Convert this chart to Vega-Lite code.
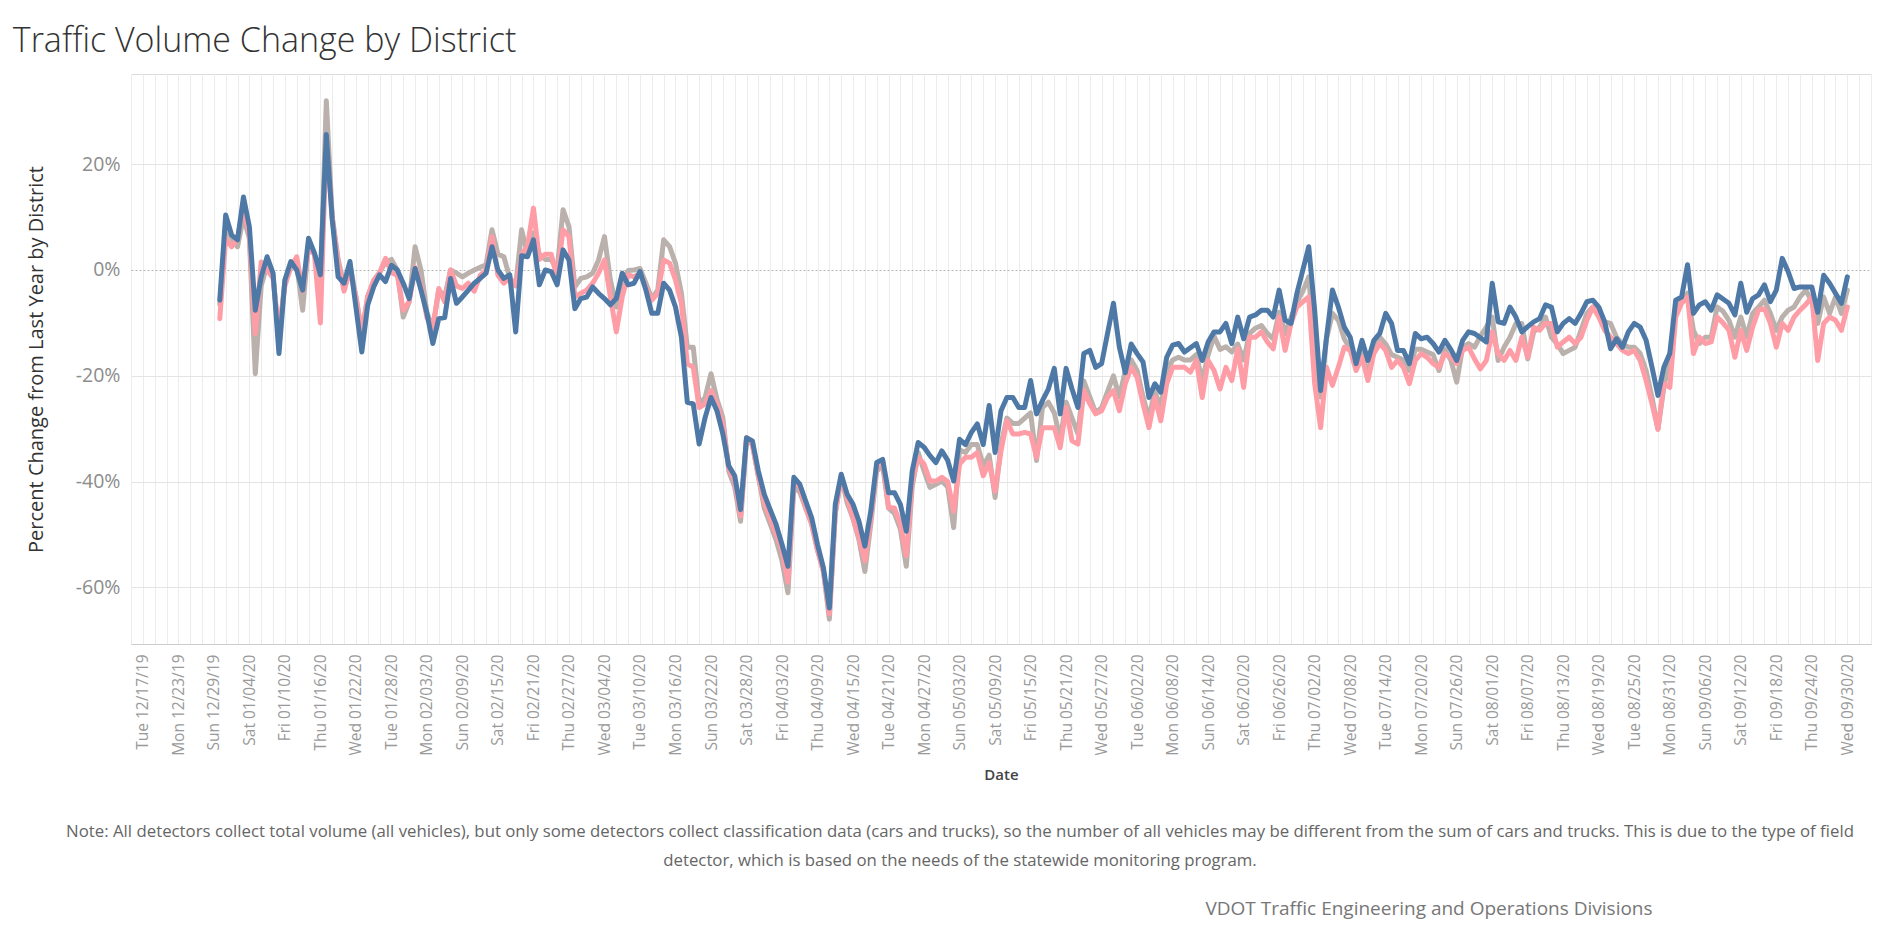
{
  "$schema": "https://vega.github.io/schema/vega-lite/v6.json",
  "background": "white",
  "padding": {"left": 12, "top": 24, "right": 0, "bottom": 12},
  "config": {"font": "Open Sans", "view": {"stroke": null}},
  "title": {"text": "Traffic Volume Change by District", "anchor": "start", "frame": "bounds", "fontSize": 34, "fontWeight": 300, "color": "#333333", "offset": 15, "dx": -13},
  "spacing": 20,
  "vconcat": [
    {
      "width": 1740,
      "height": 570,
      "view": {"stroke": "#dcdcdc"},
      "data": {"values": [
{"date":"2019/12/30","All Vehicles":-6.5,"Cars":-9.2,"Trucks":-5.7},
{"date":"2019/12/31","All Vehicles":8,"Cars":6,"Trucks":10.4},
{"date":"2020/01/01","All Vehicles":6,"Cars":4.4,"Trucks":6.6},
{"date":"2020/01/02","All Vehicles":4.4,"Cars":6,"Trucks":5.7},
{"date":"2020/01/03","All Vehicles":10,"Cars":12,"Trucks":13.8},
{"date":"2020/01/04","All Vehicles":6,"Cars":6.5,"Trucks":8.2},
{"date":"2020/01/05","All Vehicles":-19.6,"Cars":-12,"Trucks":-7.6},
{"date":"2020/01/06","All Vehicles":-3,"Cars":1.5,"Trucks":-1.3},
{"date":"2020/01/07","All Vehicles":1,"Cars":0,"Trucks":2.5},
{"date":"2020/01/08","All Vehicles":-1,"Cars":-1.5,"Trucks":-0.6},
{"date":"2020/01/09","All Vehicles":-13,"Cars":-12,"Trucks":-15.8},
{"date":"2020/01/10","All Vehicles":-2,"Cars":-3,"Trucks":-1.9},
{"date":"2020/01/11","All Vehicles":1,"Cars":0.5,"Trucks":1.6},
{"date":"2020/01/12","All Vehicles":1,"Cars":2.5,"Trucks":0},
{"date":"2020/01/13","All Vehicles":-7.6,"Cars":-4,"Trucks":-3.8},
{"date":"2020/01/14","All Vehicles":5,"Cars":4,"Trucks":6},
{"date":"2020/01/15","All Vehicles":3,"Cars":3,"Trucks":3.2},
{"date":"2020/01/16","All Vehicles":-3,"Cars":-10,"Trucks":-0.9},
{"date":"2020/01/17","All Vehicles":32,"Cars":25,"Trucks":25.6},
{"date":"2020/01/18","All Vehicles":10,"Cars":10,"Trucks":9.5},
{"date":"2020/01/19","All Vehicles":2,"Cars":1.5,"Trucks":-1.3},
{"date":"2020/01/20","All Vehicles":-3,"Cars":-4,"Trucks":-2.5},
{"date":"2020/01/21","All Vehicles":1,"Cars":0,"Trucks":1.6},
{"date":"2020/01/22","All Vehicles":-5,"Cars":-5,"Trucks":-7},
{"date":"2020/01/23","All Vehicles":-12,"Cars":-12,"Trucks":-15.5},
{"date":"2020/01/24","All Vehicles":-5,"Cars":-5,"Trucks":-6.6},
{"date":"2020/01/25","All Vehicles":-2,"Cars":-2,"Trucks":-3.2},
{"date":"2020/01/26","All Vehicles":-0.5,"Cars":-0.5,"Trucks":-0.9},
{"date":"2020/01/27","All Vehicles":1.5,"Cars":2.2,"Trucks":-2.2},
{"date":"2020/01/28","All Vehicles":2,"Cars":-0.5,"Trucks":0.9},
{"date":"2020/01/29","All Vehicles":0,"Cars":-1,"Trucks":0},
{"date":"2020/01/30","All Vehicles":-8.9,"Cars":-7.6,"Trucks":-2.5},
{"date":"2020/01/31","All Vehicles":-6,"Cars":-6,"Trucks":-5.4},
{"date":"2020/02/01","All Vehicles":4.4,"Cars":0.5,"Trucks":0.3},
{"date":"2020/02/02","All Vehicles":0,"Cars":-3,"Trucks":-3.8},
{"date":"2020/02/03","All Vehicles":-8,"Cars":-9,"Trucks":-8.2},
{"date":"2020/02/04","All Vehicles":-11,"Cars":-11,"Trucks":-13.9},
{"date":"2020/02/05","All Vehicles":-3.8,"Cars":-3.5,"Trucks":-9.2},
{"date":"2020/02/06","All Vehicles":-5,"Cars":-6,"Trucks":-9},
{"date":"2020/02/07","All Vehicles":0,"Cars":0,"Trucks":-1.6},
{"date":"2020/02/08","All Vehicles":-0.6,"Cars":-3,"Trucks":-6.3},
{"date":"2020/02/09","All Vehicles":-1.3,"Cars":-3.5,"Trucks":-5.1},
{"date":"2020/02/10","All Vehicles":-0.6,"Cars":-2.5,"Trucks":-3.8},
{"date":"2020/02/11","All Vehicles":0,"Cars":-4,"Trucks":-2.5},
{"date":"2020/02/12","All Vehicles":0.5,"Cars":-1,"Trucks":-1.6},
{"date":"2020/02/13","All Vehicles":1,"Cars":0,"Trucks":-0.6},
{"date":"2020/02/14","All Vehicles":7.6,"Cars":6.3,"Trucks":4.4},
{"date":"2020/02/15","All Vehicles":3,"Cars":-1,"Trucks":0},
{"date":"2020/02/16","All Vehicles":2.5,"Cars":-2.5,"Trucks":-1.6},
{"date":"2020/02/17","All Vehicles":-1.5,"Cars":-1.5,"Trucks":-0.9},
{"date":"2020/02/18","All Vehicles":-3,"Cars":-3,"Trucks":-11.7},
{"date":"2020/02/19","All Vehicles":7.6,"Cars":3,"Trucks":2.7},
{"date":"2020/02/20","All Vehicles":3,"Cars":4.5,"Trucks":2.5},
{"date":"2020/02/21","All Vehicles":7,"Cars":11.7,"Trucks":5.7},
{"date":"2020/02/22","All Vehicles":3,"Cars":2,"Trucks":-2.8},
{"date":"2020/02/23","All Vehicles":2,"Cars":3,"Trucks":0},
{"date":"2020/02/24","All Vehicles":2,"Cars":3,"Trucks":-0.3},
{"date":"2020/02/25","All Vehicles":0,"Cars":-1.5,"Trucks":-2.8},
{"date":"2020/02/26","All Vehicles":11.4,"Cars":7.6,"Trucks":3.8},
{"date":"2020/02/27","All Vehicles":8.2,"Cars":6.3,"Trucks":1.9},
{"date":"2020/02/28","All Vehicles":-3.2,"Cars":-5.1,"Trucks":-7.3},
{"date":"2020/02/29","All Vehicles":-1.6,"Cars":-4.4,"Trucks":-5.4},
{"date":"2020/03/01","All Vehicles":-1.3,"Cars":-3.8,"Trucks":-5.1},
{"date":"2020/03/02","All Vehicles":-0.6,"Cars":-2.5,"Trucks":-3.2},
{"date":"2020/03/03","All Vehicles":1.9,"Cars":-0.6,"Trucks":-4.4},
{"date":"2020/03/04","All Vehicles":6.3,"Cars":1.9,"Trucks":-5.4},
{"date":"2020/03/05","All Vehicles":-1.9,"Cars":-5.1,"Trucks":-6.6},
{"date":"2020/03/06","All Vehicles":-7,"Cars":-11.7,"Trucks":-5.4},
{"date":"2020/03/07","All Vehicles":-2.5,"Cars":-5.1,"Trucks":-0.6},
{"date":"2020/03/08","All Vehicles":-0.1,"Cars":-0.9,"Trucks":-2.8},
{"date":"2020/03/09","All Vehicles":0,"Cars":-1.3,"Trucks":-2.5},
{"date":"2020/03/10","All Vehicles":0.3,"Cars":-0.6,"Trucks":-0.3},
{"date":"2020/03/11","All Vehicles":-2.5,"Cars":-3.2,"Trucks":-3.8},
{"date":"2020/03/12","All Vehicles":-5.4,"Cars":-5.7,"Trucks":-8.2},
{"date":"2020/03/13","All Vehicles":-3.8,"Cars":-4.4,"Trucks":-8.2},
{"date":"2020/03/14","All Vehicles":5.7,"Cars":1.9,"Trucks":-2.5},
{"date":"2020/03/15","All Vehicles":4.4,"Cars":1.3,"Trucks":-3.8},
{"date":"2020/03/16","All Vehicles":1.3,"Cars":-1.9,"Trucks":-7},
{"date":"2020/03/17","All Vehicles":-4.4,"Cars":-6.3,"Trucks":-12.7},
{"date":"2020/03/18","All Vehicles":-14.6,"Cars":-17.7,"Trucks":-25},
{"date":"2020/03/19","All Vehicles":-14.6,"Cars":-18.4,"Trucks":-25.3},
{"date":"2020/03/20","All Vehicles":-25.3,"Cars":-26,"Trucks":-32.9},
{"date":"2020/03/21","All Vehicles":-24.1,"Cars":-25.3,"Trucks":-27.9},
{"date":"2020/03/22","All Vehicles":-19.6,"Cars":-22.8,"Trucks":-24.1},
{"date":"2020/03/23","All Vehicles":-24.4,"Cars":-25.3,"Trucks":-26.6},
{"date":"2020/03/24","All Vehicles":-27.9,"Cars":-29.1,"Trucks":-31},
{"date":"2020/03/25","All Vehicles":-38,"Cars":-37.5,"Trucks":-37},
{"date":"2020/03/26","All Vehicles":-41,"Cars":-40,"Trucks":-38.9},
{"date":"2020/03/27","All Vehicles":-47.5,"Cars":-46.5,"Trucks":-45.3},
{"date":"2020/03/28","All Vehicles":-32,"Cars":-31.7,"Trucks":-31.7},
{"date":"2020/03/29","All Vehicles":-33,"Cars":-33,"Trucks":-32.3},
{"date":"2020/03/30","All Vehicles":-39,"Cars":-39,"Trucks":-38},
{"date":"2020/03/31","All Vehicles":-45,"Cars":-44,"Trucks":-42.4},
{"date":"2020/04/01","All Vehicles":-48,"Cars":-47,"Trucks":-45.3},
{"date":"2020/04/02","All Vehicles":-51,"Cars":-50,"Trucks":-48.1},
{"date":"2020/04/03","All Vehicles":-55,"Cars":-53,"Trucks":-51.9},
{"date":"2020/04/04","All Vehicles":-61,"Cars":-59,"Trucks":-56},
{"date":"2020/04/05","All Vehicles":-41,"Cars":-40,"Trucks":-39.2},
{"date":"2020/04/06","All Vehicles":-42,"Cars":-41,"Trucks":-40.5},
{"date":"2020/04/07","All Vehicles":-45,"Cars":-45,"Trucks":-43.7},
{"date":"2020/04/08","All Vehicles":-48,"Cars":-48,"Trucks":-46.8},
{"date":"2020/04/09","All Vehicles":-53,"Cars":-53,"Trucks":-51.9},
{"date":"2020/04/10","All Vehicles":-57,"Cars":-57,"Trucks":-56.3},
{"date":"2020/04/11","All Vehicles":-66,"Cars":-65,"Trucks":-63.9},
{"date":"2020/04/12","All Vehicles":-46,"Cars":-46,"Trucks":-44.3},
{"date":"2020/04/13","All Vehicles":-39,"Cars":-39,"Trucks":-38.6},
{"date":"2020/04/14","All Vehicles":-44,"Cars":-43,"Trucks":-42.4},
{"date":"2020/04/15","All Vehicles":-47,"Cars":-47,"Trucks":-44.3},
{"date":"2020/04/16","All Vehicles":-51,"Cars":-50.6,"Trucks":-47.5},
{"date":"2020/04/17","All Vehicles":-57,"Cars":-55,"Trucks":-52.2},
{"date":"2020/04/18","All Vehicles":-48,"Cars":-47,"Trucks":-45.6},
{"date":"2020/04/19","All Vehicles":-38,"Cars":-37,"Trucks":-36.4},
{"date":"2020/04/20","All Vehicles":-37,"Cars":-36,"Trucks":-35.8},
{"date":"2020/04/21","All Vehicles":-45,"Cars":-44.9,"Trucks":-42.1},
{"date":"2020/04/22","All Vehicles":-46,"Cars":-45,"Trucks":-42.1},
{"date":"2020/04/23","All Vehicles":-49,"Cars":-48,"Trucks":-44.3},
{"date":"2020/04/24","All Vehicles":-56,"Cars":-54,"Trucks":-49.4},
{"date":"2020/04/25","All Vehicles":-41,"Cars":-40,"Trucks":-38},
{"date":"2020/04/26","All Vehicles":-34.5,"Cars":-35.4,"Trucks":-32.6},
{"date":"2020/04/27","All Vehicles":-38,"Cars":-36.7,"Trucks":-33.5},
{"date":"2020/04/28","All Vehicles":-41.1,"Cars":-39.9,"Trucks":-35.1},
{"date":"2020/04/29","All Vehicles":-40.5,"Cars":-39.9,"Trucks":-36.4},
{"date":"2020/04/30","All Vehicles":-39.9,"Cars":-39.2,"Trucks":-34.2},
{"date":"2020/05/01","All Vehicles":-41,"Cars":-40,"Trucks":-36},
{"date":"2020/05/02","All Vehicles":-48.7,"Cars":-45.6,"Trucks":-39.9},
{"date":"2020/05/03","All Vehicles":-34,"Cars":-36.7,"Trucks":-32},
{"date":"2020/05/04","All Vehicles":-34.5,"Cars":-35.4,"Trucks":-33},
{"date":"2020/05/05","All Vehicles":-33,"Cars":-35.4,"Trucks":-30.7},
{"date":"2020/05/06","All Vehicles":-33,"Cars":-34.5,"Trucks":-29.1},
{"date":"2020/05/07","All Vehicles":-37,"Cars":-38.9,"Trucks":-33},
{"date":"2020/05/08","All Vehicles":-35,"Cars":-36.4,"Trucks":-25.6},
{"date":"2020/05/09","All Vehicles":-43,"Cars":-41.8,"Trucks":-34.5},
{"date":"2020/05/10","All Vehicles":-33,"Cars":-34.2,"Trucks":-26.6},
{"date":"2020/05/11","All Vehicles":-28,"Cars":-28.5,"Trucks":-24.1},
{"date":"2020/05/12","All Vehicles":-29,"Cars":-31,"Trucks":-24.1},
{"date":"2020/05/13","All Vehicles":-29,"Cars":-31,"Trucks":-26},
{"date":"2020/05/14","All Vehicles":-28,"Cars":-30.7,"Trucks":-26},
{"date":"2020/05/15","All Vehicles":-27,"Cars":-31,"Trucks":-20.9},
{"date":"2020/05/16","All Vehicles":-36,"Cars":-35.4,"Trucks":-27.2},
{"date":"2020/05/17","All Vehicles":-26,"Cars":-29.8,"Trucks":-24.7},
{"date":"2020/05/18","All Vehicles":-25,"Cars":-29.8,"Trucks":-22.5},
{"date":"2020/05/19","All Vehicles":-27,"Cars":-29.8,"Trucks":-18.6},
{"date":"2020/05/20","All Vehicles":-32,"Cars":-33.6,"Trucks":-27.2},
{"date":"2020/05/21","All Vehicles":-25,"Cars":-26,"Trucks":-18.6},
{"date":"2020/05/22","All Vehicles":-28,"Cars":-32.3,"Trucks":-22.5},
{"date":"2020/05/23","All Vehicles":-31,"Cars":-32.9,"Trucks":-26},
{"date":"2020/05/24","All Vehicles":-21,"Cars":-22.8,"Trucks":-15.8},
{"date":"2020/05/25","All Vehicles":-24,"Cars":-25.3,"Trucks":-15.2},
{"date":"2020/05/26","All Vehicles":-27,"Cars":-27.2,"Trucks":-18.4},
{"date":"2020/05/27","All Vehicles":-26,"Cars":-26.6,"Trucks":-17.7},
{"date":"2020/05/28","All Vehicles":-23,"Cars":-24.1,"Trucks":-12},
{"date":"2020/05/29","All Vehicles":-20,"Cars":-22.8,"Trucks":-6.3},
{"date":"2020/05/30","All Vehicles":-24,"Cars":-26.6,"Trucks":-14.6},
{"date":"2020/05/31","All Vehicles":-19,"Cars":-21.5,"Trucks":-19.4},
{"date":"2020/06/01","All Vehicles":-17,"Cars":-18.4,"Trucks":-14},
{"date":"2020/06/02","All Vehicles":-19,"Cars":-20.3,"Trucks":-15.8},
{"date":"2020/06/03","All Vehicles":-24,"Cars":-25.3,"Trucks":-17.4},
{"date":"2020/06/04","All Vehicles":-28,"Cars":-29.8,"Trucks":-24.1},
{"date":"2020/06/05","All Vehicles":-23,"Cars":-24.1,"Trucks":-21.5},
{"date":"2020/06/06","All Vehicles":-26,"Cars":-28.5,"Trucks":-23.1},
{"date":"2020/06/07","All Vehicles":-19,"Cars":-21.5,"Trucks":-16.5},
{"date":"2020/06/08","All Vehicles":-17,"Cars":-18.4,"Trucks":-14.2},
{"date":"2020/06/09","All Vehicles":-16.5,"Cars":-18.4,"Trucks":-13.9},
{"date":"2020/06/10","All Vehicles":-17,"Cars":-18.4,"Trucks":-15.5},
{"date":"2020/06/11","All Vehicles":-17,"Cars":-19.3,"Trucks":-14.7},
{"date":"2020/06/12","All Vehicles":-16,"Cars":-17.1,"Trucks":-13.9},
{"date":"2020/06/13","All Vehicles":-21,"Cars":-24.1,"Trucks":-17.1},
{"date":"2020/06/14","All Vehicles":-16,"Cars":-17.1,"Trucks":-13.6},
{"date":"2020/06/15","All Vehicles":-12.5,"Cars":-19,"Trucks":-11.7},
{"date":"2020/06/16","All Vehicles":-15,"Cars":-22.5,"Trucks":-11.7},
{"date":"2020/06/17","All Vehicles":-14.5,"Cars":-18.4,"Trucks":-10.1},
{"date":"2020/06/18","All Vehicles":-15.5,"Cars":-20.9,"Trucks":-13.9},
{"date":"2020/06/19","All Vehicles":-14,"Cars":-14.9,"Trucks":-8.9},
{"date":"2020/06/20","All Vehicles":-17,"Cars":-22.2,"Trucks":-13},
{"date":"2020/06/21","All Vehicles":-12,"Cars":-12.7,"Trucks":-8.9},
{"date":"2020/06/22","All Vehicles":-11,"Cars":-12.7,"Trucks":-8.5},
{"date":"2020/06/23","All Vehicles":-10.5,"Cars":-11.7,"Trucks":-7.6},
{"date":"2020/06/24","All Vehicles":-12,"Cars":-13.6,"Trucks":-7.6},
{"date":"2020/06/25","All Vehicles":-13,"Cars":-14.9,"Trucks":-8.9},
{"date":"2020/06/26","All Vehicles":-8,"Cars":-8.9,"Trucks":-3.8},
{"date":"2020/06/27","All Vehicles":-12,"Cars":-15.2,"Trucks":-9.5},
{"date":"2020/06/28","All Vehicles":-9,"Cars":-10.1,"Trucks":-10.1},
{"date":"2020/06/29","All Vehicles":-6,"Cars":-7,"Trucks":-4.4},
{"date":"2020/06/30","All Vehicles":-4,"Cars":-6,"Trucks":0},
{"date":"2020/07/01","All Vehicles":-1.3,"Cars":-5.1,"Trucks":4.4},
{"date":"2020/07/02","All Vehicles":-15,"Cars":-21.5,"Trucks":-7.6},
{"date":"2020/07/03","All Vehicles":-24,"Cars":-29.8,"Trucks":-22.8},
{"date":"2020/07/04","All Vehicles":-13,"Cars":-18.4,"Trucks":-12.7},
{"date":"2020/07/05","All Vehicles":-8.2,"Cars":-21.8,"Trucks":-3.8},
{"date":"2020/07/06","All Vehicles":-9.5,"Cars":-18.4,"Trucks":-7},
{"date":"2020/07/07","All Vehicles":-13,"Cars":-14.6,"Trucks":-10.8},
{"date":"2020/07/08","All Vehicles":-15,"Cars":-15.2,"Trucks":-12.7},
{"date":"2020/07/09","All Vehicles":-18,"Cars":-19,"Trucks":-17.7},
{"date":"2020/07/10","All Vehicles":-15.5,"Cars":-16.5,"Trucks":-13.3},
{"date":"2020/07/11","All Vehicles":-20,"Cars":-20.9,"Trucks":-17.1},
{"date":"2020/07/12","All Vehicles":-14.5,"Cars":-15.8,"Trucks":-13.3},
{"date":"2020/07/13","All Vehicles":-12.7,"Cars":-13.9,"Trucks":-12},
{"date":"2020/07/14","All Vehicles":-14,"Cars":-15.2,"Trucks":-8.2},
{"date":"2020/07/15","All Vehicles":-16,"Cars":-18.4,"Trucks":-10.1},
{"date":"2020/07/16","All Vehicles":-16.5,"Cars":-17.1,"Trucks":-15.2},
{"date":"2020/07/17","All Vehicles":-17,"Cars":-18.4,"Trucks":-15.2},
{"date":"2020/07/18","All Vehicles":-19,"Cars":-21.5,"Trucks":-17.7},
{"date":"2020/07/19","All Vehicles":-15,"Cars":-17.1,"Trucks":-12},
{"date":"2020/07/20","All Vehicles":-15,"Cars":-15.8,"Trucks":-13},
{"date":"2020/07/21","All Vehicles":-15.5,"Cars":-16.5,"Trucks":-12.7},
{"date":"2020/07/22","All Vehicles":-16,"Cars":-17.7,"Trucks":-13.9},
{"date":"2020/07/23","All Vehicles":-19,"Cars":-18.4,"Trucks":-15.5},
{"date":"2020/07/24","All Vehicles":-15,"Cars":-15.8,"Trucks":-13.3},
{"date":"2020/07/25","All Vehicles":-17,"Cars":-16.5,"Trucks":-15},
{"date":"2020/07/26","All Vehicles":-21.2,"Cars":-17.7,"Trucks":-17.1},
{"date":"2020/07/27","All Vehicles":-14.6,"Cars":-15.2,"Trucks":-13.3},
{"date":"2020/07/28","All Vehicles":-13.9,"Cars":-14.6,"Trucks":-11.7},
{"date":"2020/07/29","All Vehicles":-14.6,"Cars":-16.8,"Trucks":-12},
{"date":"2020/07/30","All Vehicles":-12.5,"Cars":-18.7,"Trucks":-12.8},
{"date":"2020/07/31","All Vehicles":-10.8,"Cars":-17.1,"Trucks":-13.6},
{"date":"2020/08/01","All Vehicles":-8.9,"Cars":-11.7,"Trucks":-2.5},
{"date":"2020/08/02","All Vehicles":-17.1,"Cars":-15.8,"Trucks":-9.8},
{"date":"2020/08/03","All Vehicles":-14.6,"Cars":-17.1,"Trucks":-10.1},
{"date":"2020/08/04","All Vehicles":-12.7,"Cars":-15.2,"Trucks":-7},
{"date":"2020/08/05","All Vehicles":-10.1,"Cars":-17.1,"Trucks":-8.9},
{"date":"2020/08/06","All Vehicles":-10.1,"Cars":-12.7,"Trucks":-11.7},
{"date":"2020/08/07","All Vehicles":-16.8,"Cars":-16.5,"Trucks":-10.7},
{"date":"2020/08/08","All Vehicles":-11.7,"Cars":-10.8,"Trucks":-9.8},
{"date":"2020/08/09","All Vehicles":-10.8,"Cars":-11.4,"Trucks":-9.2},
{"date":"2020/08/10","All Vehicles":-8.9,"Cars":-10.1,"Trucks":-6.6},
{"date":"2020/08/11","All Vehicles":-12.7,"Cars":-10.1,"Trucks":-7},
{"date":"2020/08/12","All Vehicles":-14,"Cars":-14.6,"Trucks":-11.7},
{"date":"2020/08/13","All Vehicles":-15.8,"Cars":-13.6,"Trucks":-10.1},
{"date":"2020/08/14","All Vehicles":-15.2,"Cars":-12.7,"Trucks":-9.2},
{"date":"2020/08/15","All Vehicles":-14.6,"Cars":-13.9,"Trucks":-10.1},
{"date":"2020/08/16","All Vehicles":-11.4,"Cars":-12.7,"Trucks":-8.2},
{"date":"2020/08/17","All Vehicles":-8.2,"Cars":-9.5,"Trucks":-6},
{"date":"2020/08/18","All Vehicles":-7,"Cars":-7,"Trucks":-5.7},
{"date":"2020/08/19","All Vehicles":-7.6,"Cars":-8.9,"Trucks":-7},
{"date":"2020/08/20","All Vehicles":-9.8,"Cars":-11.4,"Trucks":-9.8},
{"date":"2020/08/21","All Vehicles":-10.1,"Cars":-12.7,"Trucks":-14.9},
{"date":"2020/08/22","All Vehicles":-12.7,"Cars":-13.9,"Trucks":-13},
{"date":"2020/08/23","All Vehicles":-14,"Cars":-15.2,"Trucks":-14.6},
{"date":"2020/08/24","All Vehicles":-14.6,"Cars":-15.8,"Trucks":-11.7},
{"date":"2020/08/25","All Vehicles":-14.6,"Cars":-15.2,"Trucks":-10.1},
{"date":"2020/08/26","All Vehicles":-15.8,"Cars":-17.1,"Trucks":-10.8},
{"date":"2020/08/27","All Vehicles":-19,"Cars":-20.9,"Trucks":-13.3},
{"date":"2020/08/28","All Vehicles":-24.1,"Cars":-25.3,"Trucks":-18.4},
{"date":"2020/08/29","All Vehicles":-30.1,"Cars":-30.1,"Trucks":-23.7},
{"date":"2020/08/30","All Vehicles":-22.2,"Cars":-21.5,"Trucks":-18.4},
{"date":"2020/08/31","All Vehicles":-16.5,"Cars":-22.2,"Trucks":-15.8},
{"date":"2020/09/01","All Vehicles":-7.6,"Cars":-8.9,"Trucks":-5.7},
{"date":"2020/09/02","All Vehicles":-5.7,"Cars":-6.3,"Trucks":-5.1},
{"date":"2020/09/03","All Vehicles":-4.4,"Cars":-5.1,"Trucks":1},
{"date":"2020/09/04","All Vehicles":-11.4,"Cars":-15.8,"Trucks":-8.2},
{"date":"2020/09/05","All Vehicles":-13.9,"Cars":-12.7,"Trucks":-6.6},
{"date":"2020/09/06","All Vehicles":-12.7,"Cars":-13.9,"Trucks":-6},
{"date":"2020/09/07","All Vehicles":-12.7,"Cars":-13.6,"Trucks":-7.6},
{"date":"2020/09/08","All Vehicles":-7,"Cars":-8.9,"Trucks":-4.7},
{"date":"2020/09/09","All Vehicles":-7.8,"Cars":-10,"Trucks":-5.5},
{"date":"2020/09/10","All Vehicles":-9.5,"Cars":-11.4,"Trucks":-6.3},
{"date":"2020/09/11","All Vehicles":-12.7,"Cars":-16.5,"Trucks":-8.5},
{"date":"2020/09/12","All Vehicles":-8.9,"Cars":-11.4,"Trucks":-2.5},
{"date":"2020/09/13","All Vehicles":-12.7,"Cars":-15.2,"Trucks":-8},
{"date":"2020/09/14","All Vehicles":-8.2,"Cars":-10.8,"Trucks":-5.4},
{"date":"2020/09/15","All Vehicles":-7,"Cars":-7.6,"Trucks":-4.7},
{"date":"2020/09/16","All Vehicles":-5.7,"Cars":-7.3,"Trucks":-2.8},
{"date":"2020/09/17","All Vehicles":-8.2,"Cars":-10.1,"Trucks":-6},
{"date":"2020/09/18","All Vehicles":-11.4,"Cars":-14.6,"Trucks":-3.8},
{"date":"2020/09/19","All Vehicles":-8.9,"Cars":-10.1,"Trucks":2.2},
{"date":"2020/09/20","All Vehicles":-7.6,"Cars":-11.4,"Trucks":-0.3},
{"date":"2020/09/21","All Vehicles":-7,"Cars":-8.9,"Trucks":-3.5},
{"date":"2020/09/22","All Vehicles":-5.1,"Cars":-7.6,"Trucks":-3.2},
{"date":"2020/09/23","All Vehicles":-3.8,"Cars":-6.5,"Trucks":-3.2},
{"date":"2020/09/24","All Vehicles":-6,"Cars":-5.1,"Trucks":-3.2},
{"date":"2020/09/25","All Vehicles":-10.1,"Cars":-17.1,"Trucks":-8},
{"date":"2020/09/26","All Vehicles":-5.1,"Cars":-10.1,"Trucks":-1},
{"date":"2020/09/27","All Vehicles":-8.2,"Cars":-8.9,"Trucks":-2.5},
{"date":"2020/09/28","All Vehicles":-5.1,"Cars":-9.5,"Trucks":-4.4},
{"date":"2020/09/29","All Vehicles":-8.2,"Cars":-11.4,"Trucks":-6.3},
{"date":"2020/09/30","All Vehicles":-3.8,"Cars":-7,"Trucks":-1.3}
      ]},
      "transform": [{"fold": ["All Vehicles", "Cars", "Trucks"], "as": ["series", "pct"]}],
      "mark": {"type": "line", "strokeWidth": 5, "strokeJoin": "round", "strokeCap": "round"},
      "encoding": {
        "x": {
          "field": "date",
          "type": "temporal",
          "scale": {"domain": [{"year": 2019, "month": 12, "date": 15}, {"year": 2020, "month": 10, "date": 4}]},
          "axis": {
            "tickCount": {"interval": "day", "step": 1},
            "labelExpr": "round((datum.value - datetime(2019, 11, 17)) / 864e5) % 6 === 0 ? timeFormat(datum.value, '%a %m/%d/%y') : ''",
            "labelAngle": -90,
            "labelFontSize": 15.5,
            "labelColor": "#9a9a9a",
            "labelPadding": 10,
            "labelOverlap": false,
            "labelFlush": false,
            "labelBound": false,
            "ticks": false,
            "domainColor": "#cccccc",
            "gridColor": "#ececec",
            "gridOpacity": {"condition": {"test": "round((datum.value - datetime(2019, 11, 15)) / 864e5) % 2 === 0", "value": 1}, "value": 0},
            "title": "Date",
            "titleFontSize": 15,
            "titleFontWeight": 600,
            "titleColor": "#444444",
            "titlePadding": 12
          }
        },
        "y": {
          "field": "pct",
          "type": "quantitative",
          "scale": {"domain": [-70.7, 37.05], "nice": false, "zero": false},
          "axis": {
            "values": [20, 0, -20, -40, -60],
            "labelExpr": "datum.value + '%'",
            "labelFontSize": 19.5,
            "labelColor": "#8c8c8c",
            "labelPadding": 11,
            "ticks": false,
            "domain": false,
            "gridColor": {"condition": {"test": "datum.value === 0", "value": "#b5b5b5"}, "value": "#e4e4e4"},
            "gridDash": {"condition": {"test": "datum.value === 0", "value": [2, 2]}, "value": []},
            "title": "Percent Change from Last Year by District",
            "titleFontSize": 20,
            "titleFontWeight": "normal",
            "titleColor": "#333333",
            "titlePadding": 29
          }
        },
        "color": {
          "field": "series",
          "type": "nominal",
          "scale": {"domain": ["All Vehicles", "Cars", "Trucks"], "range": ["#bab0ac", "#ff9da7", "#4e79a7"]},
          "legend": null
        }
      }
    },
    {
      "width": 1740,
      "height": 1,
      "data": {"values": []},
      "mark": "text",
      "title": {
        "text": ["Note: All detectors  collect total volume (all vehicles), but only some detectors collect classification data (cars and trucks),  so the number of all vehicles may be different from the sum of cars and trucks. This is due to the type of field", "detector, which is based on the needs of the statewide monitoring program."],
        "orient": "bottom",
        "anchor": "middle",
        "fontSize": 16.8,
        "fontWeight": "normal",
        "color": "#666666",
        "lineHeight": 28.5,
        "offset": 20,
        "dx": -41
      }
    },
    {
      "width": 1740,
      "height": 1,
      "data": {"values": []},
      "mark": "text",
      "title": {
        "text": "VDOT Traffic Engineering and Operations Divisions",
        "orient": "bottom",
        "anchor": "middle",
        "fontSize": 19,
        "fontWeight": "normal",
        "color": "#777777",
        "offset": 9,
        "dx": 428
      }
    }
  ]
}
